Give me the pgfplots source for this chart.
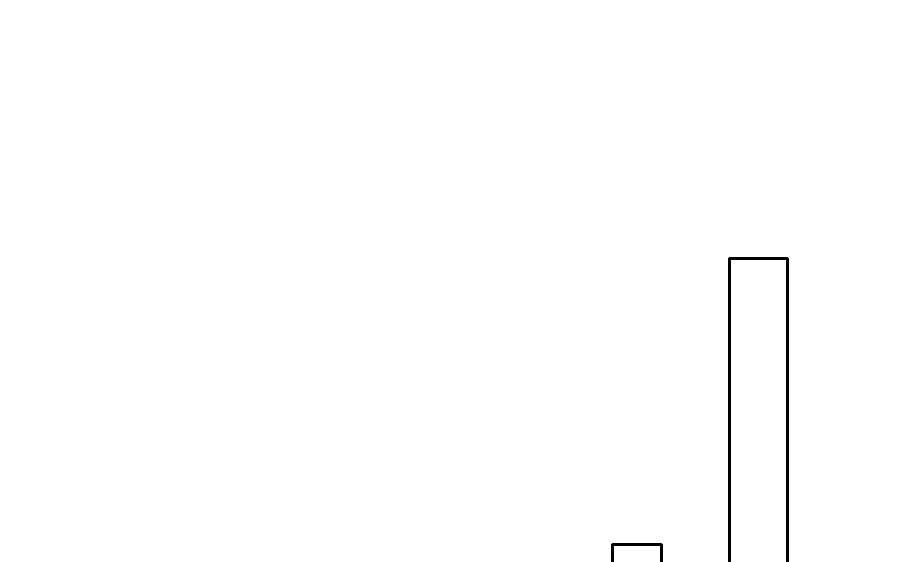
\documentclass[border=0pt]{standalone}
\usepackage{pgfplots}
\pgfplotsset{compat=1.18}

\begin{document}
\begin{tikzpicture}
    \begin{axis}[
        scale only axis,
        width  = 450pt,
        height = 281pt,
        xmin = 0, xmax = 900,
        ymin = 20, ymax = 582,
        ticks = none,
        axis line style = {draw=none},
    ]
        % two outlined bars, open at the bottom (cut off by the edge)
        \addplot[draw=black, line width=1.5pt, line join=round, mark=none]
            coordinates {(612.2, 0) (612.2, 37.2) (661.8, 37.2) (661.8, 0)};
        \addplot[draw=black, line width=1.5pt, line join=round, mark=none]
            coordinates {(729.2, 0) (729.2, 323.8) (787.8, 323.8) (787.8, 0)};
    \end{axis}
\end{tikzpicture}
\end{document}
